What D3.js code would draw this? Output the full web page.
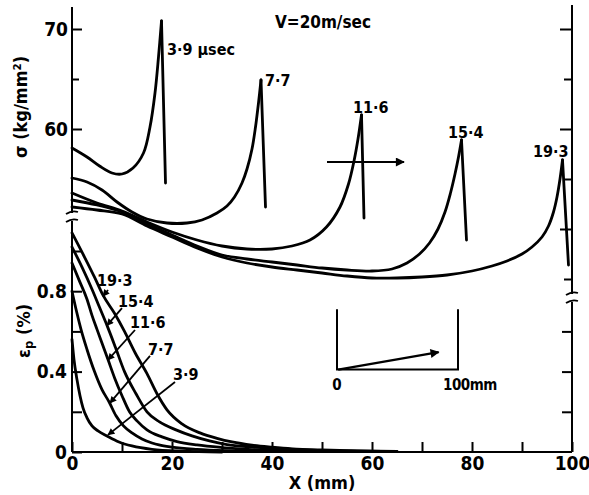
<!DOCTYPE html>
<html>
<head>
<meta charset="utf-8">
<script src="https://cdn.jsdelivr.net/npm/d3@7"></script>
<style>
  body { margin: 0; background: #fff; }
  svg { display: block; }
  text { font-family: "DejaVu Sans Condensed", "DejaVu Sans", sans-serif; font-stretch: condensed; font-weight: bold; fill: #000; }
</style>
</head>
<body>
<div id="graph"></div>
<script>
'use strict'

// times (µsec) of the five profiles
const times = ['3·9', '7·7', '11·6', '15·4', '19·3']

// stress σ (kg/mm²) against X (mm); last point is the foot of the drop after the peak
const sigX39 = [0, 3, 5.5, 8, 10, 12.2, 14.3, 15.6, 16.6, 17.3, 17.9, 18.7]
const sig39 = [58.1, 57.2, 56.3, 55.6, 55.5, 56.1, 57.6, 60.2, 63.6, 67.2, 70.8, 54.6]
const sigX77 = [0, 3, 6, 9, 12, 15, 19, 23, 26, 29, 31, 32.5, 34, 35, 36, 36.7, 37.3, 37.8, 38.7]
const sig77 = [55.1, 54.7, 53.9, 52.7, 51.7, 51.0, 50.6, 50.6, 50.9, 51.6, 52.3, 53.2, 54.6, 56.0, 58.0, 60.2, 62.6, 64.9, 52.2]
const sigX116 = [0, 5, 10, 15, 20, 25, 30, 35, 40, 44, 47.6, 50.9, 53.6, 55.3, 56.4, 57.2, 57.9, 58.4]
const sig116 = [53.6, 52.6, 51.8, 50.7, 49.7, 48.9, 48.3, 48.0, 48.0, 48.3, 48.9, 50.2, 52.2, 54.5, 56.8, 59.0, 61.4, 51.1]
const sigX154 = [0, 5, 10, 15, 20, 25, 30, 35, 40, 45, 50, 55, 60, 64, 67, 69.5, 71.5, 73.2, 74.6, 75.7, 76.6, 77.3, 77.9, 78.9]
const sig154 = [52.9, 52.4, 51.7, 50.5, 49.4, 48.3, 47.4, 47.0, 46.7, 46.4, 46.1, 45.9, 45.8, 46.0, 46.6, 47.5, 48.6, 50.0, 51.7, 53.6, 55.5, 57.2, 58.9, 48.9]
const sigX193 = [0, 5, 10, 15, 20, 25, 30, 35, 40, 45, 50, 55, 60, 65, 70, 75, 80, 84, 87, 90, 92, 94, 95.3, 96.3, 97, 97.6, 98.1, 99.3]
const sig193 = [52.2, 51.9, 51.5, 50.3, 49.2, 48.1, 47.2, 46.6, 46.2, 45.9, 45.6, 45.3, 45.1, 45.1, 45.2, 45.4, 45.8, 46.3, 46.8, 47.5, 48.2, 49.2, 50.3, 51.7, 53.2, 55.0, 56.9, 46.4]

// plastic strain εp (%) against X (mm)
const epX39 = [0, 0.4, 1, 1.6, 2.2, 3, 4, 5.2, 7, 9.4, 12, 16, 22, 30]
const ep39 = [0.56, 0.46, 0.36, 0.28, 0.22, 0.17, 0.13, 0.105, 0.08, 0.05, 0.03, 0.013, 0.004, 0]
const epX77 = [0, 0.9, 1.8, 3, 4.5, 6, 7.4, 8.8, 10.3, 12, 14, 16, 17.4, 20, 25, 32, 40]
const ep77 = [0.80, 0.70, 0.61, 0.51, 0.40, 0.31, 0.25, 0.18, 0.13, 0.095, 0.065, 0.045, 0.035, 0.024, 0.013, 0.006, 0.002]
const epX116 = [0, 1.5, 3, 4, 5, 6.1, 7.2, 8.5, 10, 11.5, 13, 15, 18, 21, 25, 30, 36, 44, 55]
const ep116 = [0.94, 0.85, 0.76, 0.68, 0.61, 0.535, 0.46, 0.37, 0.28, 0.2, 0.155, 0.11, 0.075, 0.052, 0.035, 0.022, 0.012, 0.006, 0.002]
const epX154 = [0, 2, 4, 5.5, 7, 8.7, 10.5, 12.8, 15, 17.5, 20.8, 24, 27.5, 31, 36, 42, 48, 56, 65]
const ep154 = [1.02, 0.92, 0.81, 0.72, 0.63, 0.52, 0.40, 0.29, 0.2, 0.15, 0.11, 0.08, 0.055, 0.037, 0.025, 0.015, 0.009, 0.005, 0.002]
const epX193 = [0, 2.5, 4.5, 6.2, 8.5, 10.5, 12.7, 15, 17, 19, 22, 25.6, 29, 32, 36, 40, 44, 50, 57, 65]
const ep193 = [1.09, 0.97, 0.87, 0.78, 0.69, 0.60, 0.49, 0.39, 0.29, 0.21, 0.14, 0.095, 0.068, 0.05, 0.034, 0.024, 0.016, 0.01, 0.006, 0.003]

// label anchors for the σ peaks (X mm, σ) and the εp leaders (X mm, εp)
const sigLabX = [19, 38.6, 56.2, 75.2, 92.2]
const sigLabY = [67.4, 64.3, 61.6, 59.1, 57.2]
const epLabX = [20.2, 15.2, 11.6, 9.2, 5]
const epLabY = [0.358, 0.483, 0.617, 0.72, 0.826]
const epTailX = [20.6, 15.6, 12.6, 10, 7.2]
const epTailY = [0.348, 0.478, 0.607, 0.716, 0.806]
const epTipX = [7.2, 7.6, 7.2, 7, 6.2]
const epTipY = [0.085, 0.244, 0.458, 0.63, 0.775]

const xTicks = [0, 10, 20, 30, 40, 50, 60, 70, 80, 90, 100]
const sigTicksL = [60, 65, 70]
const sigTicksR = [45, 50, 55, 60, 65, 70]
const epTicksL = [0, 0.2, 0.4, 0.6, 0.8, 1.0]
const epTicksR = [0.2, 0.4, 0.6]

let W = 589, H = 495
let svg = d3.select('#graph').append('svg')
  .attr('width', W)
  .attr('height', H)

let x = d3.scaleLinear().domain([0, 100]).range([72, 572])
let yS = d3.scaleLinear().domain([60, 70]).range([129, 29])
let yE = d3.scaleLinear().domain([0, 1]).range([452, 251])

let defs = svg.append('defs')
function marker(id, w, h) {
  defs.append('marker')
    .attr('id', id)
    .attr('viewBox', '0 0 10 10')
    .attr('refX', 9).attr('refY', 5)
    .attr('markerUnits', 'userSpaceOnUse')
    .attr('markerWidth', w).attr('markerHeight', h)
    .attr('orient', 'auto')
    .append('path').attr('d', 'M0,0L10,5L0,10Z').attr('fill', '#000')
}
marker('tip', 9, 7)
marker('big', 16, 9)

// axes
function styleAxis(g) {
  g.select('.domain').remove()
  g.selectAll('.tick line').attr('stroke', '#000').attr('stroke-width', 2)
  g.selectAll('.tick text').attr('font-size', 19).attr('font-family', null)
}

svg.append('g')
  .attr('transform', `translate(0, ${yE(0)})`)
  .call(d3.axisBottom(x).tickValues(xTicks).tickSize(-10).tickPadding(4)
    .tickFormat(d => d % 20 === 0 ? d : ''))
  .call(styleAxis)

svg.append('g')
  .attr('transform', `translate(${x(0)}, 0)`)
  .call(d3.axisLeft(yS).tickValues(sigTicksL).tickSize(-10).tickPadding(4)
    .tickFormat(d => d === 65 ? '' : d))
  .call(styleAxis)
  .call(g => g.selectAll('.tick line').attr('x2', d => d === 65 ? 7 : 10))

svg.append('g')
  .attr('transform', `translate(${x(0)}, 0)`)
  .call(d3.axisLeft(yE).tickValues(epTicksL).tickSize(-10).tickPadding(5)
    .tickFormat(d => d === 0 ? '0' : (d === 0.4 || d === 0.8) ? d3.format('.1f')(d) : ''))
  .call(styleAxis)

svg.append('g')
  .attr('transform', `translate(${x(100)}, 0)`)
  .call(d3.axisRight(yS).tickValues(sigTicksR).tickSize(-12).tickFormat(''))
  .call(styleAxis)
  .call(g => g.selectAll('.tick line').attr('x2', d => d % 10 === 0 ? -12 : -8))

svg.append('g')
  .attr('transform', `translate(${x(100)}, 0)`)
  .call(d3.axisRight(yE).tickValues(epTicksR).tickSize(-10).tickFormat(''))
  .call(styleAxis)

// frame lines with breaks
let frame = svg.append('g').attr('stroke', '#000').attr('stroke-width', 2).attr('fill', 'none')
frame.append('line').attr('x1', x(0)).attr('x2', x(100)).attr('y1', yE(0)).attr('y2', yE(0))
frame.append('line').attr('x1', x(0)).attr('x2', x(0)).attr('y1', 7).attr('y2', 213)
frame.append('line').attr('x1', x(0)).attr('x2', x(0)).attr('y1', 221).attr('y2', yE(0))
frame.append('line').attr('x1', x(100)).attr('x2', x(100)).attr('y1', 5).attr('y2', 294)
frame.append('line').attr('x1', x(100)).attr('x2', x(100)).attr('y1', 302).attr('y2', yE(0))
let brk = (cx, cy) => `M${cx - 6},${cy + 1}Q${cx},${cy - 3} ${cx + 6},${cy - 1}`
;[[x(0), 213], [x(0), 221], [x(100), 294], [x(100), 302]].forEach(p => {
  frame.append('path').attr('d', brk(p[0], p[1])).attr('stroke-width', 1.8)
})

// curves
let lineS = d3.line().x(d => x(d[0])).y(d => yS(d[1])).curve(d3.curveCatmullRom.alpha(0.5))
let lineE = d3.line().x(d => x(d[0])).y(d => yE(d[1])).curve(d3.curveMonotoneX)
let straightS = d3.line().x(d => x(d[0])).y(d => yS(d[1]))

let sigSeries = [[sigX39, sig39], [sigX77, sig77], [sigX116, sig116], [sigX154, sig154], [sigX193, sig193]]
let epSeries = [[epX39, ep39], [epX77, ep77], [epX116, ep116], [epX154, ep154], [epX193, ep193]]

let curves = svg.append('g').attr('fill', 'none').attr('stroke', '#000')
  .attr('stroke-width', 2.8).attr('stroke-linejoin', 'round').attr('stroke-linecap', 'round')

sigSeries.forEach(s => {
  let pts = d3.zip(s[0], s[1])
  curves.append('path').attr('d', lineS(pts.slice(0, -1)))
  curves.append('path').attr('d', straightS(pts.slice(-2)))
})
epSeries.forEach(s => {
  curves.append('path').attr('d', lineE(d3.zip(s[0], s[1])))
})

// labels on the σ peaks
svg.append('g').selectAll('text')
  .data(times)
  .join('text')
    .attr('x', (d, i) => x(sigLabX[i]))
    .attr('y', (d, i) => yS(sigLabY[i]))
    .attr('font-size', 16)
    .text((d, i) => i === 0 ? d + ' μsec' : d)

svg.append('text')
  .attr('x', x(40.6)).attr('y', yS(70.1))
  .attr('font-size', 17)
  .text('V=20m/sec')

// leaders for εp curves
let lead = svg.append('g')
lead.selectAll('line')
  .data(times)
  .join('line')
    .attr('x1', (d, i) => x(epTailX[i])).attr('y1', (d, i) => yE(epTailY[i]))
    .attr('x2', (d, i) => x(epTipX[i])).attr('y2', (d, i) => yE(epTipY[i]))
    .attr('stroke', '#000').attr('stroke-width', 1.8)
    .attr('marker-end', 'url(#tip)')
lead.selectAll('text')
  .data(times)
  .join('text')
    .attr('x', (d, i) => x(epLabX[i]))
    .attr('y', (d, i) => yE(epLabY[i]))
    .attr('font-size', 16)
    .text(d => d)

// direction arrow in the stress panel
svg.append('line')
  .attr('x1', x(51)).attr('y1', yS(56.7))
  .attr('x2', x(66.4)).attr('y2', yS(56.7))
  .attr('stroke', '#000').attr('stroke-width', 2.2)
  .attr('marker-end', 'url(#big)')

// inset: specimen sketch
let ix = d3.scaleLinear().domain([0, 100]).range([x(53), x(77.2)])
let iy = d3.scaleLinear().domain([0, 1]).range([yE(0.41), yE(0.71)])
let inset = svg.append('g').attr('stroke', '#000').attr('stroke-width', 2).attr('fill', 'none')
inset.append('path')
  .attr('d', `M${ix(0)},${iy(1)}V${iy(0)}H${ix(100)}V${iy(1)}`)
inset.append('line')
  .attr('x1', ix(1)).attr('y1', iy(0))
  .attr('x2', ix(84)).attr('y2', iy(0.29))
  .attr('stroke-width', 2.4)
  .attr('marker-end', 'url(#big)')
svg.append('text').attr('x', ix(0)).attr('y', iy(0) + 20)
  .attr('text-anchor', 'middle').attr('font-size', 15).text('0')
svg.append('text').attr('x', ix(100) - 15).attr('y', iy(0) + 20)
  .attr('font-size', 15).attr('letter-spacing', -0.5).text('100mm')

// axis titles
svg.append('text')
  .attr('transform', `translate(27, 107) rotate(-90)`)
  .attr('text-anchor', 'middle').attr('font-size', 18)
  .text('σ (kg/mm²)')

let epT = svg.append('text')
  .attr('transform', `translate(30, 331) rotate(-90)`)
  .attr('text-anchor', 'middle').attr('font-size', 18)
epT.append('tspan').text('ε')
epT.append('tspan').attr('font-size', 13).attr('dy', 3).text('p')
epT.append('tspan').attr('dy', -3).text(' (%)')

svg.append('text')
  .attr('x', 322).attr('y', 489)
  .attr('text-anchor', 'middle').attr('font-size', 18)
  .text('X (mm)')
</script>
</body>
</html>
